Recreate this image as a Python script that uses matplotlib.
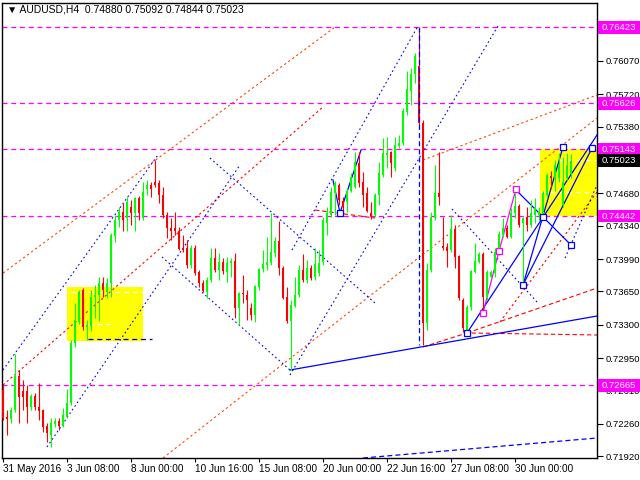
import matplotlib
matplotlib.use("Agg")
import matplotlib.pyplot as plt
from matplotlib.patches import Rectangle
from matplotlib.transforms import blended_transform_factory

plt.rcParams["font.family"] = ["Liberation Sans", "DejaVu Sans"]

# ----------------------------
# AUDUSD H4 CANDLES
# ----------------------------
opens = [0.7261, 0.7233, 0.7231, 0.7240, 0.7276, 0.7260, 0.7260, 0.7244, 0.7255, 0.7244,
         0.7240, 0.7224, 0.7214, 0.7226, 0.7229, 0.7224, 0.7233, 0.7248, 0.7311, 0.7333,
         0.7366, 0.7328, 0.7329, 0.7359, 0.7361, 0.7374, 0.7364, 0.7374, 0.7423, 0.7440,
         0.7448, 0.7442, 0.7454, 0.7447, 0.7463, 0.7442, 0.7473, 0.7477, 0.7480, 0.7479,
         0.7466, 0.7445, 0.7432, 0.7432, 0.7428, 0.7411, 0.7411, 0.7393, 0.7411, 0.7385,
         0.7374, 0.7364, 0.7377, 0.7400, 0.7387, 0.7396, 0.7385, 0.7395, 0.7397, 0.7348,
         0.7363, 0.7361, 0.7348, 0.7340, 0.7370, 0.7389, 0.7393, 0.7395, 0.7405, 0.7418,
         0.7390, 0.7359, 0.7334, 0.7350, 0.7361, 0.7387, 0.7377, 0.7390, 0.7380, 0.7384,
         0.7396, 0.7437, 0.7445, 0.7468, 0.7477, 0.7460, 0.7459, 0.7471, 0.7475, 0.7500,
         0.7480, 0.7468, 0.7447, 0.7445, 0.7466, 0.7487, 0.7508, 0.7511, 0.7495, 0.7518,
         0.7521, 0.7553, 0.7576, 0.7593, 0.7602, 0.7542, 0.7332, 0.7387, 0.7442, 0.7468,
         0.7413, 0.7412, 0.7408, 0.7431, 0.7402, 0.7356, 0.7324, 0.7349, 0.7385, 0.7396,
         0.7404, 0.7359, 0.7380, 0.7384, 0.7405, 0.7424, 0.7432, 0.7422, 0.7447, 0.7455,
         0.7437, 0.7443, 0.7435, 0.7445, 0.7445, 0.7445, 0.7466, 0.7486, 0.7484, 0.7484,
         0.7456, 0.7484, 0.74880]
highs = [0.7267, 0.7240, 0.7244, 0.7299, 0.7282, 0.7272, 0.7267, 0.7257, 0.7258, 0.7269,
         0.7242, 0.7227, 0.7232, 0.7232, 0.7232, 0.7243, 0.7263, 0.7314, 0.7353, 0.7366,
         0.7369, 0.7335, 0.7366, 0.7372, 0.7380, 0.7380, 0.7379, 0.7426, 0.7445, 0.7454,
         0.7458, 0.7464, 0.7461, 0.7464, 0.7465, 0.7480, 0.7482, 0.7480, 0.7503, 0.7482,
         0.7475, 0.7448, 0.7442, 0.7448, 0.7433, 0.7424, 0.7419, 0.7414, 0.7414, 0.7387,
         0.7377, 0.7380, 0.7411, 0.7411, 0.7405, 0.7400, 0.7401, 0.7400, 0.7405, 0.7364,
         0.7382, 0.7366, 0.7353, 0.7372, 0.7390, 0.7408, 0.7422, 0.7447, 0.7422, 0.7439,
         0.7392, 0.7370, 0.7356, 0.7380, 0.7393, 0.7404, 0.7398, 0.7393, 0.7411, 0.7408,
         0.7443, 0.7454, 0.7475, 0.7481, 0.7479, 0.7464, 0.7474, 0.7489, 0.7511, 0.7511,
         0.7490, 0.7475, 0.7459, 0.7468, 0.7501, 0.7526, 0.7527, 0.7513, 0.7527, 0.7529,
         0.7558, 0.7597, 0.7600, 0.7615, 0.7642, 0.7545, 0.7395, 0.7448, 0.7498, 0.7511,
         0.7443, 0.7416, 0.7445, 0.7435, 0.7403, 0.7358, 0.7351, 0.7387, 0.7416, 0.7406,
         0.7406, 0.7387, 0.7387, 0.7411, 0.7429, 0.7442, 0.7435, 0.7453, 0.7471, 0.7457,
         0.7443, 0.7454, 0.7461, 0.7463, 0.7454, 0.7471, 0.7489, 0.7492, 0.7503, 0.7510,
         0.7506, 0.7510, 0.75092]
lows = [0.7230, 0.7214, 0.7227, 0.7238, 0.7227, 0.7240, 0.7227, 0.7240, 0.7240, 0.7230,
        0.7217, 0.7207, 0.7202, 0.7223, 0.7219, 0.7223, 0.7232, 0.7246, 0.7307, 0.7331,
        0.7324, 0.7314, 0.7323, 0.7337, 0.7334, 0.7359, 0.7358, 0.7359, 0.7417, 0.7433,
        0.7429, 0.7429, 0.7435, 0.7429, 0.7440, 0.7440, 0.7466, 0.7464, 0.7475, 0.7458,
        0.7442, 0.7421, 0.7419, 0.7424, 0.7408, 0.7406, 0.7390, 0.7390, 0.7382, 0.7370,
        0.7364, 0.7358, 0.7375, 0.7385, 0.7377, 0.7383, 0.7375, 0.7380, 0.7337, 0.7330,
        0.7353, 0.7335, 0.7335, 0.7333, 0.7366, 0.7385, 0.7387, 0.7393, 0.7401, 0.7382,
        0.7357, 0.7332, 0.7282, 0.7349, 0.7359, 0.7375, 0.7374, 0.7377, 0.7377, 0.7381,
        0.7393, 0.7424, 0.7443, 0.7445, 0.7456, 0.7447, 0.7448, 0.7469, 0.7474, 0.7475,
        0.7454, 0.7448, 0.7441, 0.7443, 0.7456, 0.7485, 0.7495, 0.7485, 0.7492, 0.7516,
        0.7519, 0.7550, 0.7561, 0.7584, 0.7540, 0.7309, 0.7324, 0.7385, 0.7440, 0.7456,
        0.7408, 0.7391, 0.7406, 0.7390, 0.7356, 0.7322, 0.7320, 0.7345, 0.7384, 0.7395,
        0.7343, 0.7356, 0.7379, 0.7380, 0.7403, 0.7422, 0.7421, 0.7421, 0.7442, 0.7433,
        0.7374, 0.7429, 0.7433, 0.7437, 0.7440, 0.7443, 0.7463, 0.7474, 0.7471, 0.7480,
        0.7454, 0.7482, 0.74844]
closes = [0.7232, 0.7231, 0.7240, 0.7276, 0.7254, 0.7254, 0.7244, 0.7255, 0.7244, 0.7239,
          0.7223, 0.7216, 0.7227, 0.7229, 0.7224, 0.7235, 0.7248, 0.7311, 0.7335, 0.7364,
          0.7328, 0.7330, 0.7359, 0.7361, 0.7374, 0.7366, 0.7374, 0.7424, 0.7440, 0.7448,
          0.7440, 0.7459, 0.7447, 0.7463, 0.7447, 0.7469, 0.7477, 0.7473, 0.7477, 0.7466,
          0.7445, 0.7432, 0.7429, 0.7428, 0.7410, 0.7408, 0.7393, 0.7411, 0.7384, 0.7374,
          0.7365, 0.7377, 0.7400, 0.7387, 0.7396, 0.7386, 0.7395, 0.7397, 0.7348, 0.7363,
          0.7362, 0.7356, 0.7340, 0.7371, 0.7389, 0.7394, 0.7396, 0.7406, 0.7418, 0.7390,
          0.7358, 0.7334, 0.7351, 0.7361, 0.7387, 0.7377, 0.7390, 0.7379, 0.7394, 0.7395,
          0.7440, 0.7447, 0.7469, 0.7479, 0.7461, 0.7454, 0.7471, 0.7485, 0.7501, 0.7479,
          0.7466, 0.7450, 0.7444, 0.7466, 0.7489, 0.7510, 0.7510, 0.7500, 0.7519, 0.7521,
          0.7554, 0.7578, 0.7593, 0.7612, 0.7542, 0.7332, 0.7387, 0.7443, 0.7468, 0.7464,
          0.7411, 0.7407, 0.7431, 0.7401, 0.7358, 0.7327, 0.7349, 0.7386, 0.7397, 0.7404,
          0.7359, 0.7385, 0.7385, 0.7406, 0.7425, 0.7432, 0.7422, 0.7447, 0.7455, 0.7435,
          0.7442, 0.7435, 0.7447, 0.7453, 0.7450, 0.7468, 0.7487, 0.7484, 0.7498, 0.7498,
          0.7480, 0.7498, 0.75023]

x_ticks = [0, 16, 32, 48, 64, 80, 96, 112, 128]
x_labels = ["31 May 2016", "3 Jun 08:00", "8 Jun 00:00", "10 Jun 16:00", "15 Jun 08:00",
            "20 Jun 00:00", "22 Jun 16:00", "27 Jun 08:00", "30 Jun 00:00"]
# 0.75030 sits under the last-price box, so it is not listed
y_ticks = [0.76070, 0.75720, 0.75380, 0.74680, 0.74340, 0.73990,
           0.73650, 0.73300, 0.72950, 0.72610, 0.72260, 0.71920]

levels = [0.76423, 0.75626, 0.75143, 0.74442, 0.72665]
last_price = 0.75023

# ----------------------------
# DRAWN ANALYSIS LINES (bar index, price)
# ----------------------------
orange_dotted = [([0, 83], [0.73843, 0.76426]),
                 ([40, 148.5], [0.71901, 0.75471]),
                 ([105, 148.5], [0.75030, 0.75713])]
red_dotted = [([0, 80], [0.72668, 0.75587]),
              ([124.25, 148.5], [0.73329, 0.74694])]
red_dashed = [([105, 116, 148.5], [0.73067, 0.73214, 0.73193]),
              ([116, 148.5], [0.73214, 0.73686]),
              ([78, 93], [0.74505, 0.74421])]
blue_dotted = [([0, 38.75], [0.72825, 0.75083]),
               ([11, 59.25], [0.72017, 0.74978]),
               ([51.75, 93], [0.75051, 0.73529]),
               ([39.75, 71.75], [0.74012, 0.72825]),
               ([72.25, 103.75], [0.74085, 0.76437]),
               ([71.75, 123.75], [0.72773, 0.76437]),
               ([112.25, 133.5], [0.74516, 0.73539]),
               ([140.5, 148.5], [0.74001, 0.74768])]
blue_dashed = [([90, 148.5], [0.71901, 0.72111]),
               ([104, 104], [0.76423, 0.73088])]
blue_solid = [([71.75, 148.5], [0.72825, 0.73392]),
              ([116, 148.5], [0.73214, 0.75293]),
              ([130, 140], [0.73718, 0.75167]),
              ([130, 147.25], [0.73718, 0.75156]),
              ([128, 142], [0.74726, 0.74138]),
              ([82.5, 84.25, 89.5], [0.74820, 0.74474, 0.75135])]
pink_x = [120, 124, 128.25]
pink_y = [0.73424, 0.74075, 0.74726]
blue_sq_x = [116, 130, 135, 140, 142, 147.25, 84.25]
blue_sq_y = [0.73214, 0.73718, 0.74432, 0.75167, 0.74138, 0.75156, 0.74474]

# yellow target boxes: x0, x1, y0, y1
box1 = [16, 35, 0.73130, 0.73697]
box2 = [134.25, 148.5, 0.74442, 0.75143]
white_dashes = [([17, 35], 0.73644), ([17, 27], 0.73308),
                ([134.25, 148.5], 0.74694), ([139, 148.5], 0.75030)]
navy_dash = ([21.25, 37.25], 0.73151)

# ----------------------------
# PLOT
# ----------------------------
fig = plt.figure(figsize=(6.4, 4.8), dpi=100)
ax = fig.add_axes([2 / 640, 22 / 480, 595 / 640, 455 / 480])
ax.set_xlim(-0.25, 148.5)
ax.set_ylim(0.71901, 0.76679)

for b in (box1, box2):
    ax.add_patch(Rectangle((b[0], b[2]), b[1] - b[0], b[3] - b[2],
                           color="#ffff00", lw=0, zorder=1))
for xs, y in white_dashes:
    ax.plot(xs, [y, y], color="white", ls=(0, (4, 3)), lw=0.9, zorder=2)
ax.plot(navy_dash[0], [navy_dash[1]] * 2, color="#0000aa", ls=(0, (4, 3)), lw=0.9, zorder=2)

for lv in levels:
    ax.axhline(lv, color="#ff00ff", ls=(0, (4, 3)), lw=0.9, zorder=2)

for xs, ys in orange_dotted:
    ax.plot(xs, ys, color="#ff4500", ls=(0, (2, 2.5)), lw=0.8, zorder=2)
for xs, ys in red_dotted:
    ax.plot(xs, ys, color="#ff0000", ls=(0, (2, 2.5)), lw=0.8, zorder=2)
for xs, ys in red_dashed:
    ax.plot(xs, ys, color="#ff0000", ls=(0, (4, 2.5)), lw=0.8, zorder=2)
for xs, ys in blue_dotted:
    ax.plot(xs, ys, color="#0000ff", ls=(0, (1.5, 2.5)), lw=0.8, zorder=2)
for xs, ys in blue_dashed:
    ax.plot(xs, ys, color="#0000ff", ls=(0, (4, 2.5)), lw=0.9, zorder=5)
for xs, ys in blue_solid:
    ax.plot(xs, ys, color="#0000ff", lw=0.9, zorder=3)
ax.plot(pink_x, pink_y, color="#ff00ff", lw=0.9, zorder=3)

# candles
for i in range(len(opens)):
    o, h, l, c = opens[i], highs[i], lows[i], closes[i]
    col = "#00ff00" if c >= o else "#ff0000"
    ax.vlines(i, l, h, color=col, lw=0.8, zorder=4)
    lo, hi = min(o, c), max(o, c)
    ax.add_patch(Rectangle((i - 0.37, lo), 0.74, max(hi - lo, 0.00004),
                           color=col, lw=0, zorder=4))

ax.plot(blue_sq_x, blue_sq_y, "s", ms=4, mfc="white", mec="#0000ff", mew=0.9, zorder=6)
ax.plot(pink_x, pink_y, "s", ms=4, mfc="white", mec="#ff00ff", mew=0.9, zorder=6)

# axes styling
for sp in ax.spines.values():
    sp.set_color("black")
    sp.set_linewidth(1)
ax.yaxis.tick_right()
ax.set_yticks(y_ticks)
ax.set_yticklabels([f"{v:.5f}" for v in y_ticks])
ax.tick_params(axis="y", direction="out", length=4, width=0.8, labelsize=6.8, pad=2)
ax.set_xticks(x_ticks)
ax.set_xticklabels(x_labels)
ax.tick_params(axis="x", direction="out", length=3, width=0.8, labelsize=7.2, pad=1)
plt.setp(ax.get_xticklabels(), ha="left")

# price labels on the right scale
tr = blended_transform_factory(fig.transFigure, ax.transData)
box_h = 0.00132
for lv in levels:
    ax.add_patch(Rectangle((598 / 640, lv - box_h / 2), 42 / 640, box_h, transform=tr,
                           color="#ff00ff", lw=0, clip_on=False, zorder=7))
    ax.text(602 / 640, lv, f"{lv:.5f}", transform=tr, color="white", fontsize=6.8,
            va="center", ha="left", zorder=8, clip_on=False)
ax.add_patch(Rectangle((598 / 640, last_price - box_h / 2), 42 / 640, box_h, transform=tr,
                       color="black", lw=0, clip_on=False, zorder=7))
ax.text(602 / 640, last_price, f"{last_price:.5f}", transform=tr, color="white",
        fontsize=6.8, va="center", ha="left", zorder=8, clip_on=False)

fig.text(7 / 640, 1 - 10 / 480,
         "\u25bc AUDUSD,H4  0.74880 0.75092 0.74844 0.75023",
         fontsize=7.5, va="center", ha="left")

fig.savefig("out.png", dpi=100)
